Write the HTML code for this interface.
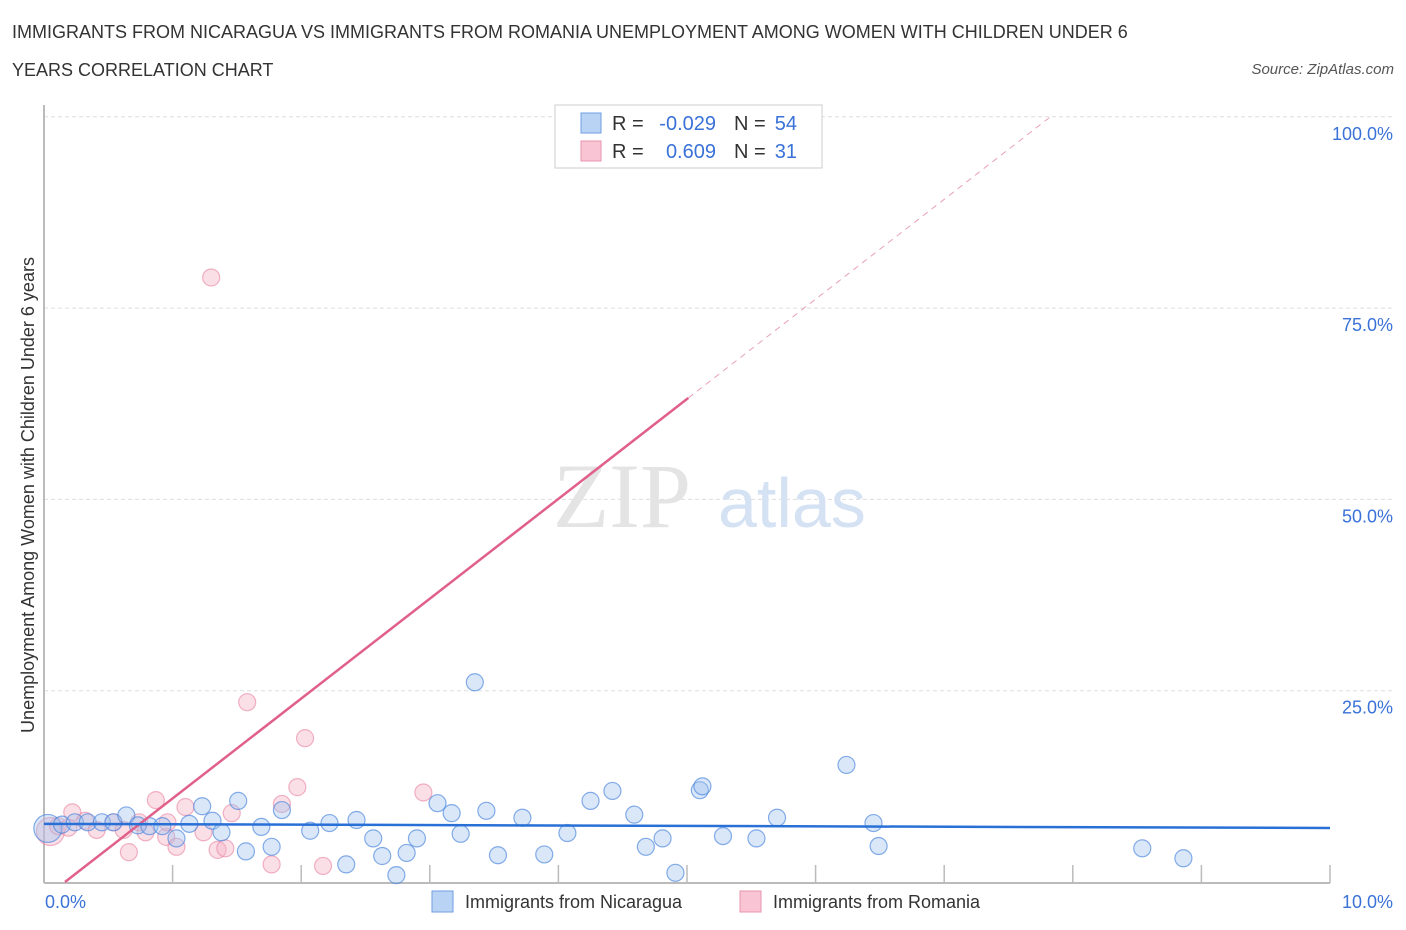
<!DOCTYPE html>
<html><head><meta charset="utf-8">
<style>
body{margin:0;background:#fff;font-family:"Liberation Sans",sans-serif;}
#wrap{position:relative;width:1406px;height:930px;overflow:hidden;}
.t{position:absolute;color:#333;font-size:18px;}
</style></head><body>
<div id="wrap">
<div class="t" style="left:12px;top:22px;">IMMIGRANTS FROM NICARAGUA VS IMMIGRANTS FROM ROMANIA UNEMPLOYMENT AMONG WOMEN WITH CHILDREN UNDER 6</div>
<div class="t" style="left:12px;top:60px;">YEARS CORRELATION CHART</div>
<div class="t" style="right:12px;top:61px;font-size:15px;font-style:italic;color:#555;">Source: ZipAtlas.com</div>
<svg id="svg" width="1406" height="930" style="position:absolute;left:0;top:0"></svg>
</div>
<script>
const nicX=[0.03,0.14,0.24,0.34,0.45,0.54,0.64,0.73,0.82,0.92,1.03,1.13,1.23,1.31,1.38,1.51,1.57,1.69,1.77,1.85,2.07,2.22,2.35,2.43,2.56,2.63,2.82,2.90,3.06,3.17,3.24,3.35,3.44,3.53,3.72,3.89,4.07,4.25,4.42,4.59,4.68,4.81,4.91,5.10,5.12,5.28,5.54,5.70,6.24,6.45,6.49,8.54,8.86,2.74];
const nicY=[7.0,7.5,7.8,7.8,7.8,7.8,8.7,7.4,7.3,7.3,5.7,7.6,9.9,8.0,6.5,10.6,4.0,7.2,4.6,9.4,6.7,7.7,2.3,8.1,5.7,3.4,3.8,5.7,10.3,9.0,6.3,26.1,9.3,3.5,8.4,3.6,6.4,10.6,11.9,8.8,4.6,5.7,1.2,12.0,12.5,6.0,5.7,8.4,15.3,7.7,4.7,4.4,3.1,0.9];
const romX=[0.05,0.11,0.19,0.22,0.32,0.41,0.54,0.62,0.66,0.74,0.79,0.87,0.95,0.96,1.03,1.10,1.24,1.30,1.35,1.41,1.46,1.58,1.77,1.85,1.97,2.03,2.17,2.95,4.87];
const romY=[6.6,7.3,7.1,9.1,8.0,6.8,7.8,6.8,3.9,7.8,6.5,10.7,5.9,7.8,4.6,9.8,6.5,79.0,4.2,4.4,9.0,23.5,2.3,10.2,12.4,18.8,2.1,11.7,100.0];
const nicR=-0.029, romR=0.609;
const blueLine=[7.6,7.06];
const romSlope=13.05, romInt=-2.13;
const yTicks=[25,50,75,100];

const svg=document.getElementById('svg');
const NS='http://www.w3.org/2000/svg';
const X=v=>44+v*128.6, Y=v=>882-v*7.652;
function el(tag,attrs,name,parent){const e=document.createElementNS(NS,tag);for(const k in attrs)e.setAttribute(k,attrs[k]);


(parent||svg).appendChild(e);return e;}
// gridlines and y labels
yTicks.forEach(t=>{
 el('line',{x1:44,x2:1392,y1:Y(t),y2:Y(t),stroke:'#ddd','stroke-dasharray':'4,3'},'gridline-'+t);
 const tx=el('text',{x:1393,y:Y(t)+23,'text-anchor':'end',fill:'#3a72d8','font-size':18,'font-family':'Liberation Sans'},'y-tick-'+t);tx.textContent=t.toFixed(1)+'%';
});
// watermark
let w=el('text',{x:553,y:527,fill:'#e4e4e4','font-size':92,'font-family':'Liberation Serif'},'watermark-zip');w.textContent='ZIP';
w=el('text',{x:718,y:527,fill:'#d5e2f4','font-size':70,'font-family':'Liberation Sans'},'watermark-atlas');w.textContent='atlas';
// axes
el('line',{x1:44,x2:44,y1:105,y2:883,stroke:'#bbb','stroke-width':2},'y-axis');
el('line',{x1:44,x2:1330,y1:883,y2:883,stroke:'#bbb','stroke-width':2},'x-axis');
for(let i=1;i<=10;i++)el('line',{x1:X(i),x2:X(i),y1:865,y2:883,stroke:'#bbb','stroke-width':1.5},'x-tick-'+i);
// points
romX.forEach((x,i)=>el('circle',{cx:X(x),cy:Y(romY[i]),r:i==0?14:8.5,fill:'rgba(246,175,196,0.4)',stroke:'rgba(232,130,160,0.6)','stroke-width':1.2},'romania-point'));
nicX.forEach((x,i)=>el('circle',{cx:X(x),cy:Y(nicY[i]),r:i==0?14:8.5,fill:'rgba(160,195,240,0.4)',stroke:'rgba(70,130,220,0.65)','stroke-width':1.2},'nicaragua-point'));
// trend lines
const x0=-romInt/romSlope;
el('line',{x1:X(x0),y1:Y(0),x2:X(5.01),y2:Y(romInt+romSlope*5.01),stroke:'#e0608a','stroke-width':2.5},'romania-trend');
el('line',{x1:X(5.01),y1:Y(romInt+romSlope*5.01),x2:X(7.83),y2:Y(romInt+romSlope*7.83),stroke:'#e8a0b5','stroke-width':1,'stroke-dasharray':'6,5'},'romania-trend-extension');
el('line',{x1:X(0),y1:Y(blueLine[0]),x2:X(10),y2:Y(blueLine[1]),stroke:'#2970d6','stroke-width':2.5},'nicaragua-trend');
// y axis title
let yt=el('text',{x:0,y:0,transform:'translate(34,495) rotate(-90)','text-anchor':'middle',fill:'#333','font-size':18,'font-family':'Liberation Sans'},'y-axis-title');yt.textContent='Unemployment Among Women with Children Under 6 years';
let xl=el('text',{x:45,y:908,fill:'#3a72d8','font-size':18,'font-family':'Liberation Sans'},'x-tick-min');xl.textContent='0.0%';
xl=el('text',{x:1393,y:908,'text-anchor':'end',fill:'#3a72d8','font-size':18,'font-family':'Liberation Sans'},'x-tick-max');xl.textContent='10.0%';
// legend box
const lg=el('g',{},'legend-stats');
el('rect',{x:555,y:105,width:267,height:63,fill:'#fff',stroke:'#ccc'},'legend-stats-box',lg);
[[nicR,54,'#b9d3f5','#6e9fe0'],[romR,31,'#f9c4d3','#e895ad']].forEach((r,i)=>{
 const y=123+i*28;
 el('rect',{x:581,y:y-10,width:20,height:20,fill:r[2],stroke:r[3]},'legend-stats-swatch',lg);
 let t=el('text',{x:612,y:y+7,'font-size':20,fill:'#333','font-family':'Liberation Sans'},'legend-r-label',lg);t.textContent='R =';
 t=el('text',{x:716,y:y+7,'text-anchor':'end','font-size':20,fill:'#3a72d8','font-family':'Liberation Sans'},'legend-r-value',lg);t.textContent=r[0].toFixed(3);
 t=el('text',{x:734,y:y+7,'font-size':20,fill:'#333','font-family':'Liberation Sans'},'legend-n-label',lg);t.textContent='N =';
 t=el('text',{x:797,y:y+7,'text-anchor':'end','font-size':20,fill:'#3a72d8','font-family':'Liberation Sans'},'legend-n-value',lg);t.textContent=r[1];
});
// bottom legend
[[432,'Immigrants from Nicaragua','#b9d3f5','#6e9fe0'],[740,'Immigrants from Romania','#f9c4d3','#e895ad']].forEach(l=>{
 el('rect',{x:l[0],y:891,width:21,height:21,fill:l[2],stroke:l[3]},'legend-swatch');
 const t=el('text',{x:l[0]+33,y:908,'font-size':18,fill:'#333','font-family':'Liberation Sans'},'legend-entry');t.textContent=l[1];
});
</script>
</body></html>
